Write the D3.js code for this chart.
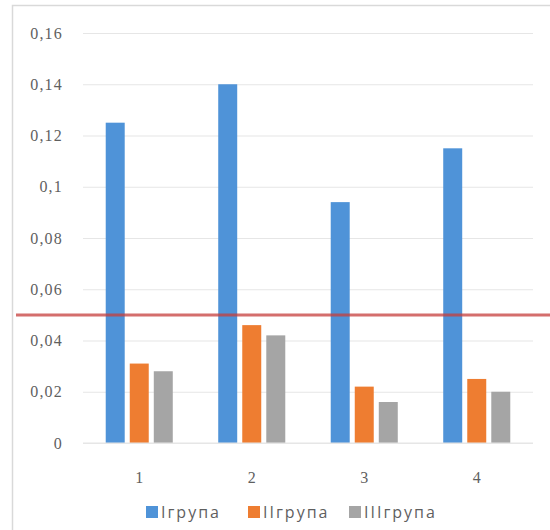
<!DOCTYPE html>
<html>
<head>
<meta charset="utf-8">
<script src="https://cdn.jsdelivr.net/npm/d3@7"></script>
<style>
  html, body { margin: 0; padding: 0; background: #fff; }
  svg { display: block; }
</style>
</head>
<body>
<svg id="chart" width="550" height="530"></svg>
<script>
// Categories along the x axis
const categories = ["1", "2", "3", "4"];
// Series names (legend)
const seriesNames = ["Iгрупа", "IIгрупа", "IIIгрупа"];
// Values per series, one per category
const groupI   = [0.125, 0.140, 0.094, 0.115];
const groupII  = [0.031, 0.046, 0.022, 0.025];
const groupIII = [0.028, 0.042, 0.016, 0.020];
// Reference level drawn as a horizontal line
const thresholdValue = 0.05;
// Y axis tick values and labels
const yTicks = [0, 0.02, 0.04, 0.06, 0.08, 0.1, 0.12, 0.14, 0.16];
const yTickLabels = ["0", "0,02", "0,04", "0,06", "0,08", "0,1", "0,12", "0,14", "0,16"];

const seriesValues = [groupI, groupII, groupIII];
const colors = ["#4f93d8", "#ee7d31", "#a5a5a5"];

const svg = d3.select("#chart");

// outer chart frame
svg.append("rect")
  .attr("x", 12.5).attr("y", 5.5)
  .attr("width", 560).attr("height", 540)
  .attr("fill", "none")
  .attr("stroke", "#d9d9d9")
  .attr("stroke-width", 1.5);

const plot = { left: 83, right: 533, top: 33, bottom: 443 };

const y = d3.scaleLinear().domain([0, 0.16]).range([plot.bottom, plot.top]);
const x0 = d3.scaleBand().domain(categories)
  .range([plot.left, plot.right])
  .paddingInner(0.404).paddingOuter(0.202);
const x1 = d3.scaleBand().domain(d3.range(seriesNames.length))
  .range([0, x0.bandwidth()])
  .paddingInner(0.21).paddingOuter(0);

// horizontal gridlines
const yAxis = d3.axisLeft(y)
  .tickValues(yTicks)
  .tickSize(-(plot.right - plot.left))
  .tickFormat((d, i) => yTickLabels[i]);

const gy = svg.append("g")
  .attr("transform", `translate(${plot.left},0)`)
  .call(yAxis);
gy.select(".domain").remove();
gy.selectAll(".tick line").attr("stroke", "#e6e6e6").attr("stroke-width", 1.2);
gy.selectAll(".tick text")
  .attr("x", -20)
  .attr("fill", "#5f5f5f")
  .style("font-family", "'Liberation Serif', serif")
  .style("font-size", "16px")
  .style("letter-spacing", "1.2px");

// bars
const groups = svg.append("g").selectAll("g")
  .data(categories)
  .join("g")
  .attr("transform", d => `translate(${x0(d)},0)`);

groups.selectAll("rect")
  .data((c, ci) => seriesValues.map((vals, si) => ({ si, v: vals[ci] })))
  .join("rect")
  .attr("x", d => x1(d.si))
  .attr("width", x1.bandwidth())
  .attr("y", d => y(d.v))
  .attr("height", d => y(0) - y(d.v))
  .attr("fill", d => colors[d.si]);

// x axis labels
const xAxis = d3.axisBottom(x0).tickSize(0).tickPadding(0);
const gx = svg.append("g")
  .attr("transform", `translate(0,${plot.bottom})`)
  .call(xAxis);
gx.select(".domain").attr("stroke", "#e6e6e6").attr("stroke-width", 1.2)
  .attr("d", `M${plot.left},0H${plot.right}`);
gx.selectAll(".tick text")
  .attr("y", 29)
  .attr("fill", "#5f5f5f")
  .style("font-family", "'Liberation Serif', serif")
  .style("font-size", "16px");

// reference line
svg.append("line")
  .attr("x1", 16).attr("x2", 550)
  .attr("y1", y(thresholdValue)).attr("y2", y(thresholdValue))
  .attr("stroke", "#c63d3b")
  .attr("stroke-opacity", 0.75)
  .attr("stroke-width", 3);

// legend
const legendX = [146, 248, 349];
const legend = svg.append("g").selectAll("g")
  .data(seriesNames)
  .join("g")
  .attr("transform", (d, i) => `translate(${legendX[i]},506)`);
legend.append("rect")
  .attr("width", 12).attr("height", 12)
  .attr("fill", (d, i) => colors[i]);
legend.append("text")
  .attr("x", 15).attr("y", 12)
  .attr("fill", "#5f5f5f")
  .style("font-family", "'Open Sans', sans-serif")
  .style("font-size", "16px")
  .style("letter-spacing", "2px")
  .text(d => d);
</script>
</body>
</html>
